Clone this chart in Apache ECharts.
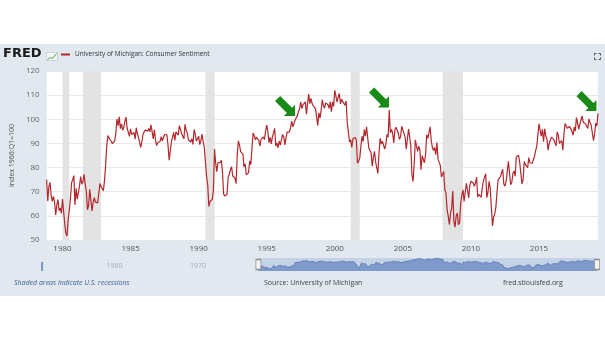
<!DOCTYPE html>
<html><head><meta charset="utf-8">
<script src="https://cdn.jsdelivr.net/npm/echarts@6/dist/echarts.min.js"></script>
<style>
html,body{margin:0;padding:0;background:#fff;}
#c{width:605px;height:341px;background:linear-gradient(to bottom,#fff 0,#fff 44px,#e1e8f0 44px,#e1e8f0 296px,#fff 296px);}
</style></head><body><div id="c"></div>
<script>
// first observation shown: Nov 1978, monthly
const startYear = 1978, startMonth = 11;
const sent1978_1984 = [75.0,66.1,
 72.1,73.9,68.4,66.0,68.1,65.8,60.4,64.5,66.7,62.1,63.3,61.0,
 67.0,66.9,56.5,52.7,51.7,58.7,62.3,67.3,73.7,75.0,76.7,64.5,
 71.4,66.9,66.5,72.4,76.3,73.1,74.1,77.2,73.1,70.3,62.5,64.3,
 71.0,66.5,62.0,65.5,67.5,65.7,65.4,65.4,69.3,73.4,72.1,71.9,
 70.4,74.6,80.8,89.1,93.3,92.2,92.8,90.9,89.9,89.3,91.1,94.2,
 100.1,97.4,101.0,96.1,98.1,95.5,96.6,99.1,100.9,96.3,95.7,92.9];
const sent1985_1989 = [
 96.0,93.7,93.7,94.6,91.8,96.5,94.0,92.4,92.1,88.4,90.9,93.9,
 93.9,95.6,95.9,95.1,96.2,94.8,97.7,94.9,91.9,95.6,91.4,89.1,
 90.4,90.2,90.8,92.8,91.1,91.5,93.7,94.4,93.6,89.3,83.1,86.8,
 90.8,91.6,94.6,91.2,94.8,94.7,93.4,97.4,97.3,94.1,93.0,91.9,
 97.9,95.4,94.3,91.5,90.7,90.6,92.0,89.6,95.8,93.9,90.9,90.5];
const sent1990_1999 = [
 93.0,89.5,91.3,93.9,90.6,88.3,88.2,76.4,72.8,63.9,66.0,65.5,
 66.8,70.4,87.7,81.8,78.3,82.1,82.9,82.0,83.0,78.3,69.1,68.2,
 67.5,68.8,76.0,77.2,79.2,80.4,76.6,76.1,75.6,73.3,85.3,91.0,
 89.3,86.6,85.9,85.6,80.3,81.5,77.0,77.3,77.9,82.7,81.2,88.2,
 94.3,93.2,91.5,92.6,92.8,91.2,89.0,91.7,91.5,92.7,91.6,95.1,
 97.6,95.1,90.3,92.5,89.8,92.7,94.4,96.2,88.9,90.2,88.2,91.0,
 89.3,88.5,93.7,92.7,89.4,92.4,94.7,95.3,94.7,96.5,99.2,96.9,
 97.4,99.7,100.0,101.4,103.2,104.5,107.1,104.4,106.0,105.6,107.2,102.1,
 106.6,110.4,106.5,108.7,106.5,105.6,105.2,104.4,100.9,97.4,102.7,100.5,
 103.9,108.1,105.7,104.6,106.8,107.3,106.0,104.5,107.2,103.2,107.2,105.4];
const sent2000_2009 = [
 112.0,111.3,107.1,109.2,110.7,106.4,108.3,107.3,106.8,105.8,107.6,98.4,
 94.7,90.6,91.5,88.4,92.0,92.6,92.4,91.5,81.8,82.7,83.9,88.8,
 93.0,90.7,95.7,93.0,96.9,92.4,88.1,87.6,86.1,80.6,84.2,86.7,
 82.4,79.9,77.6,86.0,92.1,89.7,90.9,89.3,87.7,89.6,93.7,92.6,
 103.8,94.4,95.8,94.2,90.2,95.6,96.7,95.9,94.2,91.7,92.8,97.1,
 95.5,94.1,92.6,87.7,86.9,96.0,96.5,89.1,76.9,74.2,81.6,91.5,
 91.2,86.7,88.9,87.4,79.1,84.9,84.7,82.0,85.4,93.6,92.1,91.7,
 96.9,91.3,88.4,87.1,88.3,85.3,90.4,83.4,83.4,80.9,76.1,75.5,
 78.4,70.8,69.5,62.6,59.8,56.4,61.2,63.0,70.3,57.6,55.3,60.1,
 61.2,56.3,57.3,65.1,68.7,70.8,66.0,65.7,73.5,70.6,67.4,72.5];
const sent2010_2019 = [
 74.4,73.6,73.6,72.2,73.6,76.0,67.8,68.9,68.2,67.7,71.6,74.5,
 74.2,77.5,67.5,69.8,74.3,71.5,63.7,55.8,59.5,60.8,63.7,69.9,
 75.0,75.3,76.2,76.4,79.3,73.2,72.3,74.3,78.3,82.6,82.7,72.9,
 73.8,77.6,78.6,76.4,84.5,84.1,85.1,82.1,77.5,73.2,75.1,82.5,
 81.2,81.6,80.0,84.1,81.9,82.5,81.8,82.5,84.6,86.9,88.8,93.6,
 98.1,95.4,93.0,95.9,90.7,96.1,93.1,91.9,87.2,90.0,91.3,92.6,
 92.0,91.7,91.0,89.0,94.7,93.5,90.0,89.8,91.2,87.2,93.8,98.2,
 98.5,96.3,96.9,97.0,97.1,95.1,93.4,96.8,95.1,100.7,98.5,95.9,
 95.7,99.7,101.4,98.8,98.0,98.2,97.9,96.2,100.1,98.6,97.5,98.3,
 91.2,93.8,98.4,97.2,102.4];
// earliest observations (navigator only)
const earlyYears = [1952.833, 1953.083];
const earlyValues = [86.2, 90.7];
// recessions [start, end] in decimal years
const recessions = [[1980.0,1980.5],[1981.5,1982.833],[1990.5,1991.167],[2001.167,2001.833],[2007.917,2009.417]];
const xTicks = [1980,1985,1990,1995,2000,2005,2010,2015];
const navTicks = [1960,1970];
// arrow annotation tips [year, index value]
const arrowTips = [[1997.08,101.4],[2003.98,104.9],[2019.22,103.4]];
const seriesName = 'University of Michigan: Consumer Sentiment';

const values = [].concat(sent1978_1984, sent1985_1989, sent1990_1999, sent2000_2009, sent2010_2019);
const x0 = startYear + (startMonth - 1) / 12;
const data = values.map((v, i) => [x0 + i / 12, v]);
const xEnd = data[data.length - 1][0];
const early = earlyYears.map((y, i) => [y, earlyValues[i]]);

const arrowPath = 'path://M26.7 1.3 L85.2 59.8 L100 45 L100 100 L45 100 L59.8 85.2 L1.3 26.7 Z';
const font = '"Open Sans", "Liberation Sans", sans-serif';

const chart = echarts.init(document.getElementById('c'), null, {renderer: 'canvas'});
chart.setOption({
  animation: false,
  textStyle: {fontFamily: font},
  title: [
    {text: 'FRED', left: 3, top: 47, padding: 0, textStyle: {fontSize: 13, fontWeight: 900, fontFamily: '"DejaVu Sans", sans-serif', color: '#1b1b1b'}},
    {text: 'Shaded areas indicate U.S. recessions', left: 14, top: 279, padding: 0, textStyle: {fontSize: 7, fontStyle: 'italic', fontWeight: 'normal', color: '#3d5f93', fontFamily: font}},
    {text: 'Source: University of Michigan', left: 264, top: 279, padding: 0, textStyle: {fontSize: 7, fontWeight: 'normal', color: '#444', fontFamily: font}},
    {text: 'fred.stlouisfed.org', left: 503, top: 279, padding: 0, textStyle: {fontSize: 7, fontWeight: 'normal', color: '#444', fontFamily: font}}
  ],
  legend: {
    data: [seriesName], left: 61, top: 51, padding: 0, icon: 'rect', itemWidth: 9, itemHeight: 2,
    textStyle: {fontSize: 6.5, color: '#333', fontFamily: font}
  },
  grid: [
    {left: 40, right: 7, top: 71, bottom: 101, show: true, backgroundColor: '#fff', borderWidth: 0},
    {left: 41, right: 8, top: 258, height: 13}
  ],
  xAxis: [
    {type: 'value', gridIndex: 0, min: x0, max: xEnd,
     axisLine: {show: false}, axisTick: {show: false}, splitLine: {show: false},
     axisLabel: {customValues: xTicks, fontSize: 8, color: '#555', margin: 5, formatter: v => String(Math.round(v))}},
    {type: 'value', gridIndex: 1, min: earlyYears[0], max: xEnd,
     axisLine: {show: false}, axisTick: {show: false}, splitLine: {show: false},
     axisLabel: {customValues: navTicks, inside: true, margin: 2, fontSize: 7, color: '#a3acb8', align: 'left', formatter: v => '   ' + Math.round(v)}}
  ],
  yAxis: [
    {type: 'value', gridIndex: 0, min: 50, max: 120, interval: 10,
     axisLine: {show: false}, axisTick: {show: false},
     splitLine: {lineStyle: {color: '#e8e8e8', width: 1}},
     axisLabel: {fontSize: 8, color: '#666', margin: 7},
     name: 'Index 1966:Q1=100', nameLocation: 'middle', nameGap: 29, nameRotate: 90,
     nameTextStyle: {fontSize: 7, color: '#555'}},
    {type: 'value', gridIndex: 1, min: 45, max: 113, interval: 68,
     axisLine: {show: false}, axisTick: {show: false}, axisLabel: {show: false},
     splitLine: {show: false}}
  ],
  series: [
    {name: seriesName, type: 'line', xAxisIndex: 0, yAxisIndex: 0, data: data,
     showSymbol: false, color: '#b3282d', lineStyle: {color: '#b3282d', width: 1.2},
     markArea: {silent: true, itemStyle: {color: '#e3e3e3'},
       data: recessions.map(r => [{xAxis: r[0]}, {xAxis: r[1]}])},
     markPoint: {silent: true, symbol: arrowPath, symbolSize: 20, symbolOffset: [-10, -10],
       itemStyle: {color: '#178a17'}, label: {show: false},
       data: arrowTips.map(t => ({coord: t}))}
    },
    {name: 'nav', type: 'line', xAxisIndex: 1, yAxisIndex: 1, data: data,
     showSymbol: false, lineStyle: {color: '#6282bb', width: 1},
     areaStyle: {color: '#7d9acb', opacity: 1},
     markArea: {silent: true, itemStyle: {color: 'rgba(102,133,194,0.22)'},
       data: [[{xAxis: x0}, {xAxis: xEnd}]]},
     markPoint: {silent: true, symbol: 'rect', symbolSize: [5, 10],
       itemStyle: {color: '#f2f2f2', borderColor: '#8c8c8c', borderWidth: 1}, label: {show: false},
       data: [{coord: [x0, 79]}, {coord: [xEnd, 79]}]}
    },
    {name: 'navEarly', type: 'line', xAxisIndex: 1, yAxisIndex: 1, data: early,
     showSymbol: false, lineStyle: {color: '#6282bb', width: 1},
     areaStyle: {color: '#7d9acb', opacity: 1}}
  ],
  graphic: [
    {type: 'group', left: 45, top: 51, children: [
      {type: 'rect', shape: {x: 0, y: 0, width: 11, height: 8}, style: {fill: '#f4f6f8', stroke: '#b9c2cc', lineWidth: 0.6}},
      {type: 'polyline', shape: {points: [[1,7],[4,5],[6,6],[10,1]]}, style: {stroke: '#4f9a3a', lineWidth: 1, fill: null}}
    ]},
    {type: 'group', left: 592, top: 51, children: [
      {type: 'polyline', shape: {points: [[0,2],[0,0],[2,0]]}, style: {stroke: '#555', lineWidth: 1, fill: null}},
      {type: 'polyline', shape: {points: [[4,0],[6,0],[6,2]]}, style: {stroke: '#555', lineWidth: 1, fill: null}},
      {type: 'polyline', shape: {points: [[0,4],[0,6],[2,6]]}, style: {stroke: '#555', lineWidth: 1, fill: null}},
      {type: 'polyline', shape: {points: [[4,6],[6,6],[6,4]]}, style: {stroke: '#555', lineWidth: 1, fill: null}}
    ]}
  ]
});
</script></body></html>
